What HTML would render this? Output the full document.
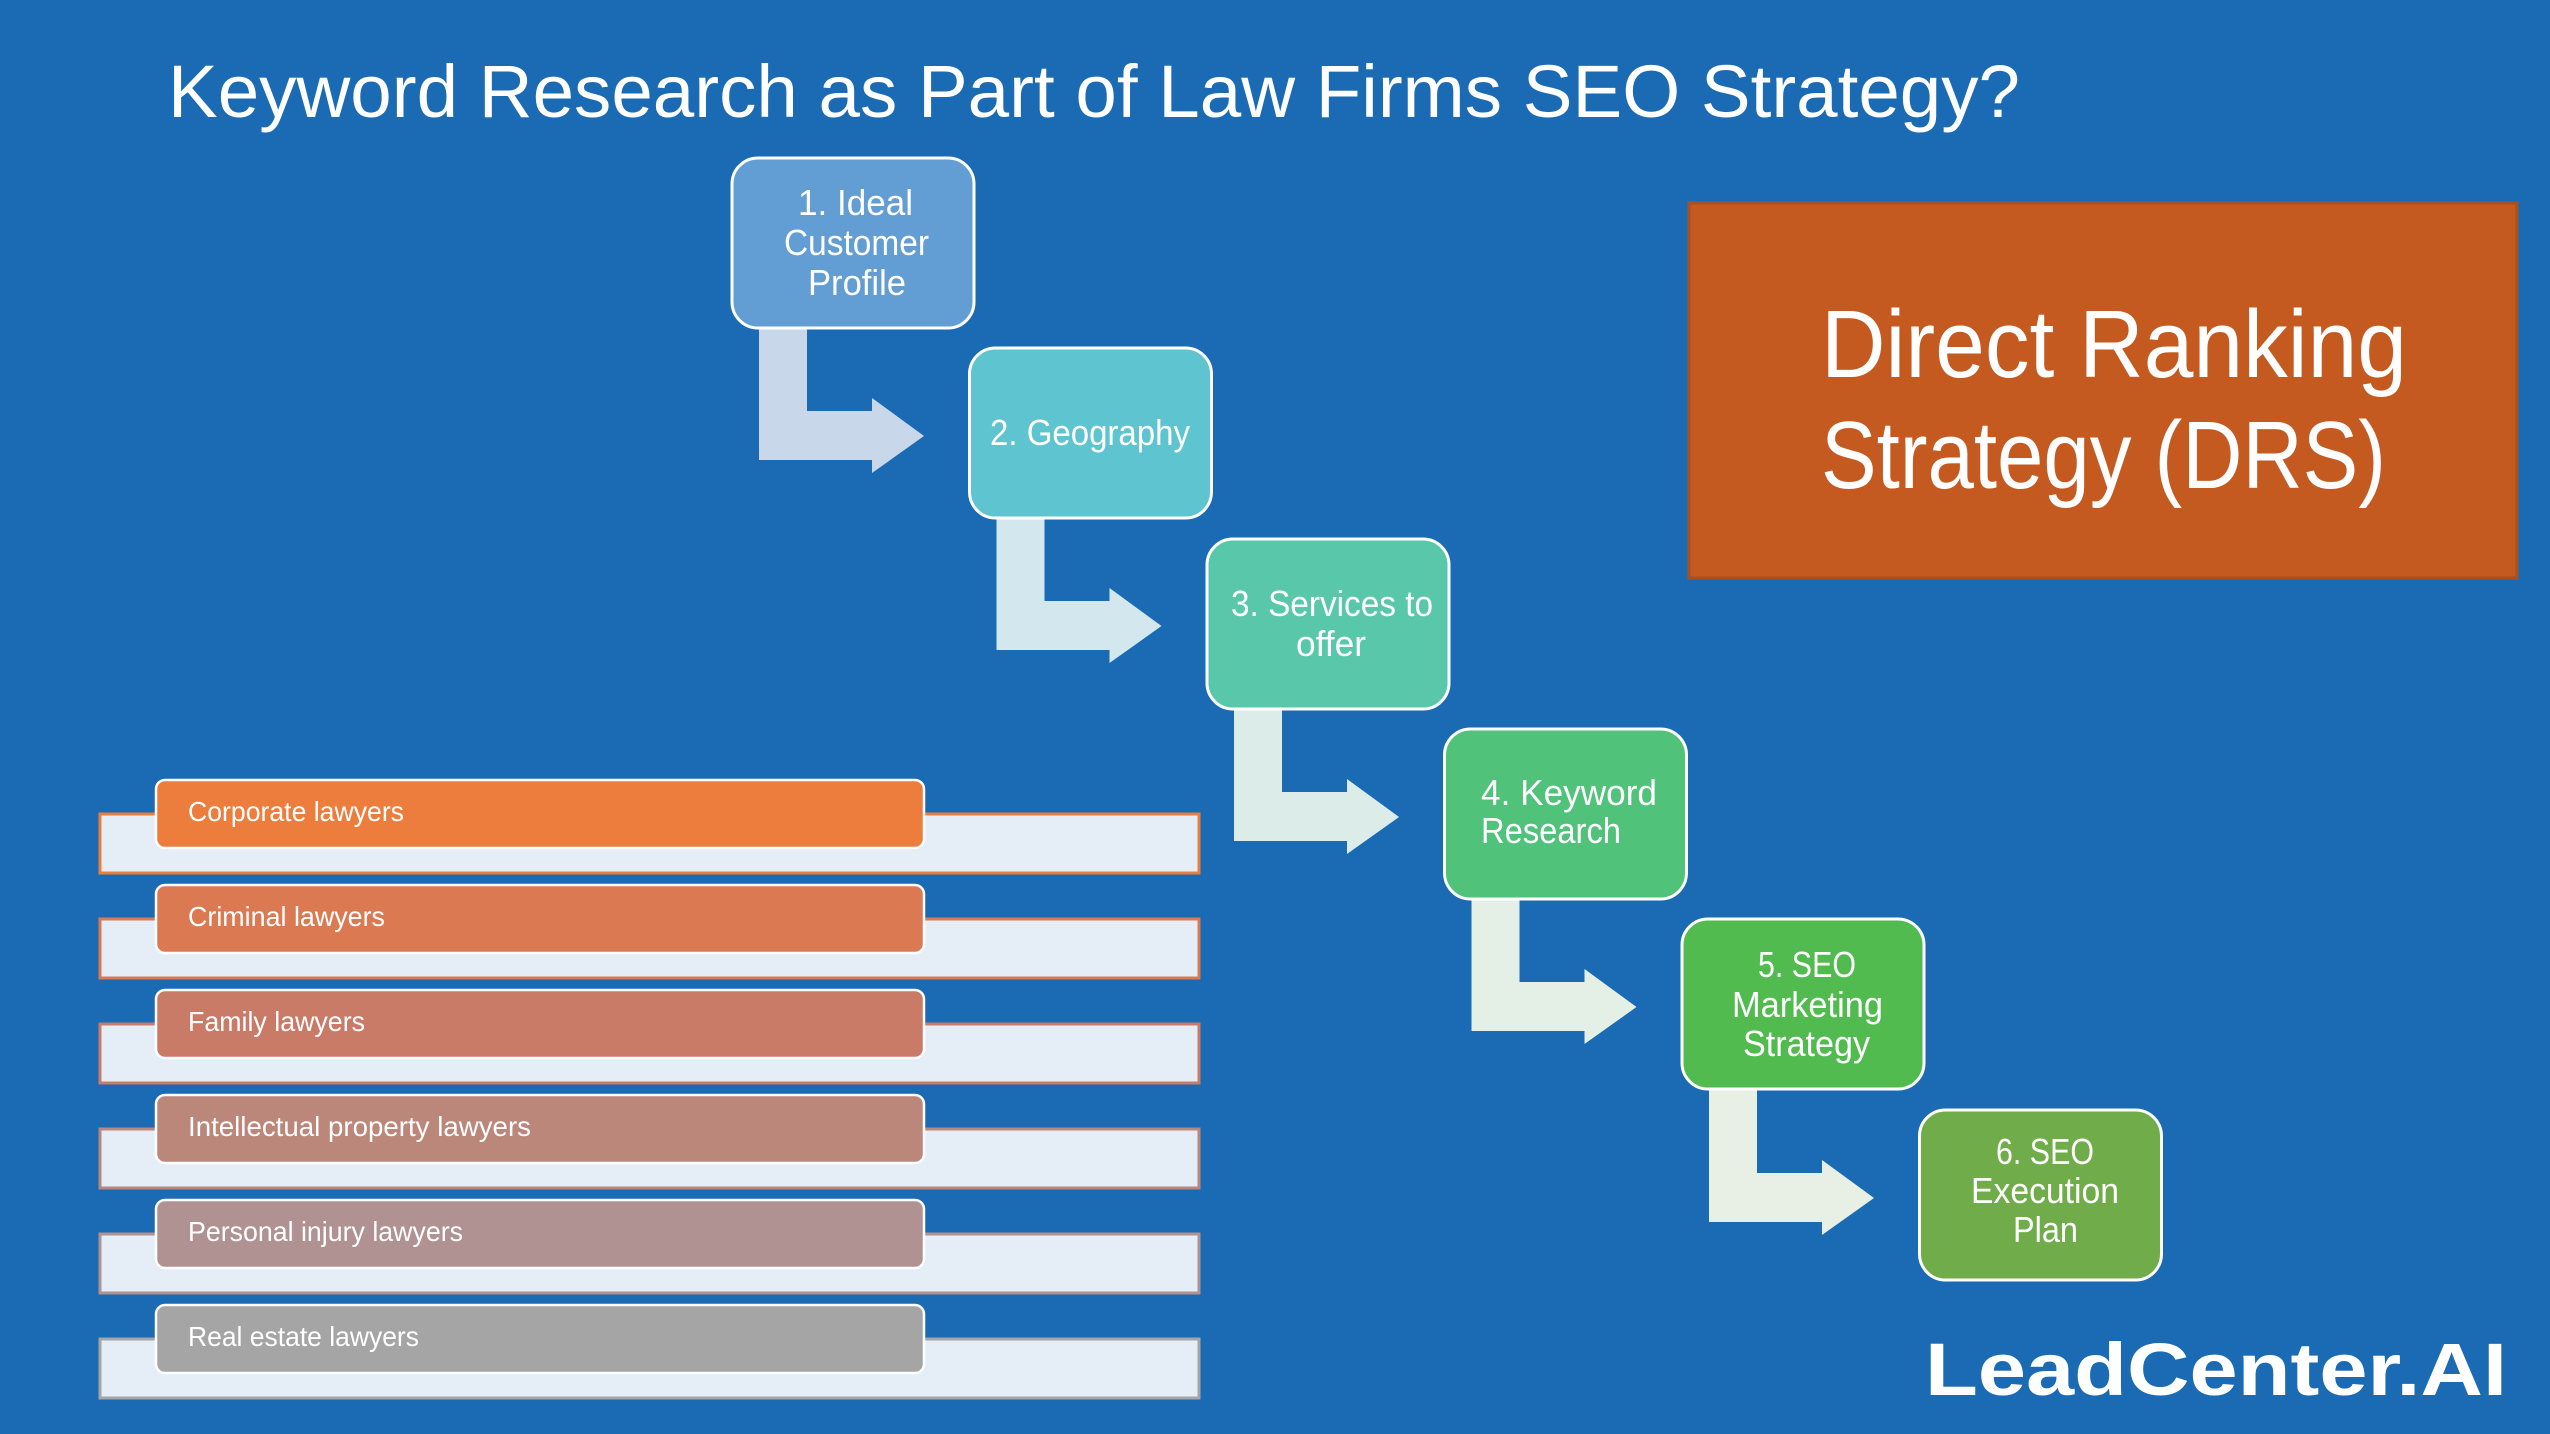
<!DOCTYPE html>
<html><head><meta charset="utf-8"><style>
html,body{margin:0;padding:0;background:#1a6bb4;}
svg{display:block;}
text{font-family:"Liberation Sans",sans-serif;fill:#fff;}
</style></head><body>
<svg width="2550" height="1434" viewBox="0 0 2550 1434" xmlns="http://www.w3.org/2000/svg">
<rect width="2550" height="1434" fill="#1a6bb4"/>
<text x="168" y="117" font-size="74" textLength="1852" lengthAdjust="spacingAndGlyphs">Keyword Research as Part of Law Firms SEO Strategy?</text>

<!-- DRS box -->
<rect x="1689" y="203" width="828" height="375" fill="#c55a20" stroke="#a8501f" stroke-width="3"/>
<text x="1821" y="377" font-size="96" textLength="586" lengthAdjust="spacingAndGlyphs">Direct  Ranking</text>
<text x="1821" y="488" font-size="96" textLength="565" lengthAdjust="spacingAndGlyphs">Strategy (DRS)</text>

<!-- arrows -->
<g id="arrows">
<path d="M759,328 H807 V411 H872 V398 L924,436 L872,473 V460 H759 Z" fill="#c8d8ea"/>
<path d="M996.5,518 H1044.5 V601 H1109.5 V588 L1161.5,626 L1109.5,663 V650 H996.5 Z" fill="#d2e8ee"/>
<path d="M1234,709 H1282 V792 H1347 V779 L1399,817 L1347,854 V841 H1234 Z" fill="#dcece9"/>
<path d="M1471.5,899 H1519.5 V982 H1584.5 V969 L1636.5,1007 L1584.5,1044 V1031 H1471.5 Z" fill="#e4efe6"/>
<path d="M1709,1090 H1757 V1173 H1822 V1160 L1874,1198 L1822,1235 V1222 H1709 Z" fill="#e8f0e6"/>
</g>

<!-- boxes -->
<g stroke="#fff" stroke-width="3">
<rect x="732" y="158" width="242" height="170" rx="26" fill="#629dd4"/>
<rect x="969.5" y="348" width="242" height="170" rx="26" fill="#5ec4cf"/>
<rect x="1207" y="539" width="242" height="170" rx="26" fill="#59c8aa"/>
<rect x="1444.5" y="729" width="242" height="170" rx="26" fill="#51c27a"/>
<rect x="1682" y="919" width="242" height="170" rx="26" fill="#52bb50"/>
<rect x="1919.5" y="1110" width="242" height="170" rx="26" fill="#70ad4a"/>
</g>
<g font-size="36" lengthAdjust="spacingAndGlyphs">
<text x="798" y="215" textLength="115" lengthAdjust="spacingAndGlyphs">1. Ideal</text>
<text x="784" y="255" textLength="145" lengthAdjust="spacingAndGlyphs">Customer</text>
<text x="808" y="295" textLength="98" lengthAdjust="spacingAndGlyphs">Profile</text>
<text x="990" y="445" textLength="200" lengthAdjust="spacingAndGlyphs">2. Geography</text>
<text x="1231" y="616" textLength="202" lengthAdjust="spacingAndGlyphs">3. Services to</text>
<text x="1296" y="656" textLength="70" lengthAdjust="spacingAndGlyphs">offer</text>
<text x="1481" y="805" textLength="176" lengthAdjust="spacingAndGlyphs">4.  Keyword</text>
<text x="1481" y="843" textLength="140" lengthAdjust="spacingAndGlyphs">Research</text>
<text x="1758" y="977" textLength="98" lengthAdjust="spacingAndGlyphs">5. SEO</text>
<text x="1732" y="1017" textLength="151" lengthAdjust="spacingAndGlyphs">Marketing</text>
<text x="1743" y="1056" textLength="127" lengthAdjust="spacingAndGlyphs">Strategy</text>
<text x="1996" y="1164" textLength="98" lengthAdjust="spacingAndGlyphs">6. SEO</text>
<text x="1971" y="1203" textLength="148" lengthAdjust="spacingAndGlyphs">Execution</text>
<text x="2013" y="1242" textLength="65" lengthAdjust="spacingAndGlyphs">Plan</text>
</g>

<!-- list -->
<g stroke-width="3">
<rect x="100" y="814" width="1099" height="59" fill="#e5eef7" stroke="#ec7d3c"/>
<rect x="100" y="919" width="1099" height="59" fill="#e5eef7" stroke="#db7a52"/>
<rect x="100" y="1024" width="1099" height="59" fill="#e5eef7" stroke="#c97b68"/>
<rect x="100" y="1129" width="1099" height="59" fill="#e5eef7" stroke="#bc877b"/>
<rect x="100" y="1234" width="1099" height="59" fill="#e5eef7" stroke="#b09292"/>
<rect x="100" y="1339" width="1099" height="59" fill="#e5eef7" stroke="#a5a5a5"/>
</g>
<g stroke="#fff" stroke-width="2.5">
<rect x="156" y="780" width="768" height="68" rx="9" fill="#ec7d3c"/>
<rect x="156" y="885" width="768" height="68" rx="9" fill="#db7a52"/>
<rect x="156" y="990" width="768" height="68" rx="9" fill="#c97b68"/>
<rect x="156" y="1095" width="768" height="68" rx="9" fill="#bc877b"/>
<rect x="156" y="1200" width="768" height="68" rx="9" fill="#b09292"/>
<rect x="156" y="1305" width="768" height="68" rx="9" fill="#a5a5a5"/>
</g>
<g font-size="28">
<text x="188" y="821" textLength="216" lengthAdjust="spacingAndGlyphs">Corporate lawyers</text>
<text x="188" y="926" textLength="197" lengthAdjust="spacingAndGlyphs">Criminal lawyers</text>
<text x="188" y="1031" textLength="177" lengthAdjust="spacingAndGlyphs">Family lawyers</text>
<text x="188" y="1136" textLength="343" lengthAdjust="spacingAndGlyphs">Intellectual property lawyers</text>
<text x="188" y="1241" textLength="275" lengthAdjust="spacingAndGlyphs">Personal injury lawyers</text>
<text x="188" y="1346" textLength="231" lengthAdjust="spacingAndGlyphs">Real estate lawyers</text>
</g>

<text x="1925" y="1395" font-size="74" font-weight="bold" textLength="582" lengthAdjust="spacingAndGlyphs">LeadCenter.AI</text>
</svg>
</body></html>
